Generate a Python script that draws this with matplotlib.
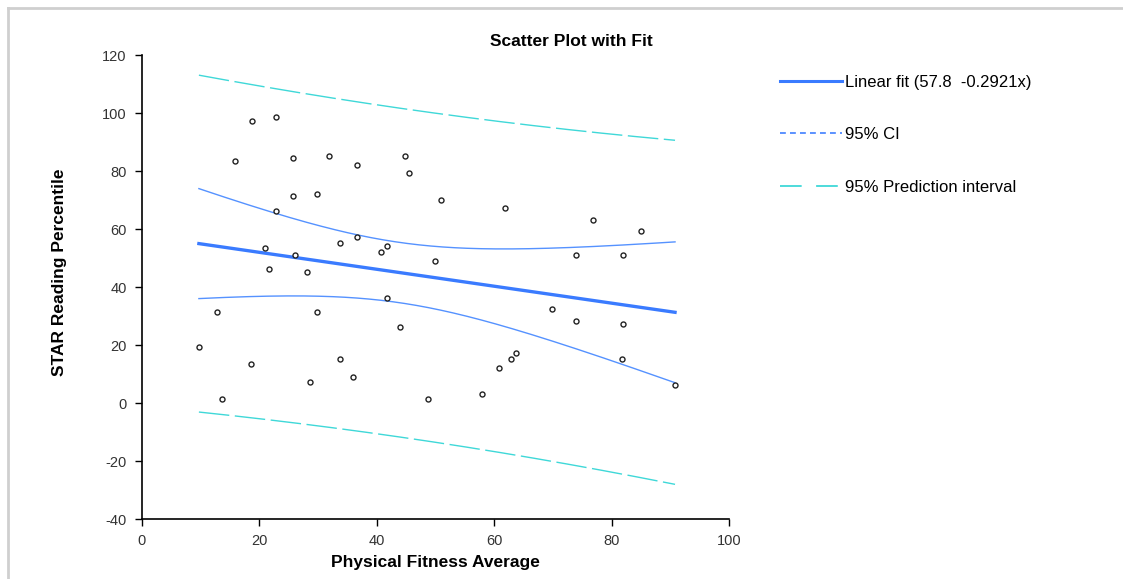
import numpy as np
import matplotlib
matplotlib.use("Agg")
import matplotlib.pyplot as plt
from matplotlib.lines import Line2D

plt.rcParams['font.family'] = ['Liberation Sans', 'DejaVu Sans']
plt.rcParams['axes.unicode_minus'] = False

# Data
fitness = [9.7, 12.8, 13.7, 15.8, 18.7, 18.5, 20.9, 21.7, 22.8, 22.8,
           25.7, 25.7, 26.0, 28.1, 28.6, 29.8, 29.8, 31.9, 33.8, 33.8,
           35.9, 36.7, 36.7, 40.7, 41.8, 41.8, 43.9, 44.8, 45.5, 48.7,
           49.9, 50.9, 57.9, 60.8, 61.8, 62.9, 63.7, 69.9, 73.9, 73.9,
           76.9, 82.0, 82.0, 81.7, 85.0, 90.8]
reading = [19.4, 31.4, 1.4, 83.4, 97.2, 13.4, 53.3, 46.1, 98.5, 66.3,
           84.4, 71.4, 51.1, 45.2, 7.3, 72.2, 31.4, 85.2, 55.1, 15.1,
           9.1, 82.2, 57.2, 52.1, 54.2, 36.2, 26.3, 85.2, 79.2, 1.5,
           49.1, 70.1, 3.1, 12.1, 67.1, 15.1, 17.2, 32.3, 28.4, 51.1,
           63.2, 51.1, 27.1, 15.1, 59.3, 6.1]

fit_intercept = 57.8
fit_slope = -0.2921
t_crit = 2.0154       # t(0.975, df=44) for the prediction interval
w_band = 2.5334       # sqrt(2*F(0.95; 2, 44)) Working-Hotelling confidence band

x = np.array(fitness)
y = np.array(reading)
n = len(x)
yhat_pts = fit_intercept + fit_slope * x
s = np.sqrt(np.sum((y - yhat_pts) ** 2) / (n - 2))
xbar = x.mean()
sxx = np.sum((x - xbar) ** 2)

xs = np.linspace(x.min(), x.max(), 200)
yfit = fit_intercept + fit_slope * xs
se_mean = s * np.sqrt(1.0 / n + (xs - xbar) ** 2 / sxx)
se_pred = s * np.sqrt(1.0 + 1.0 / n + (xs - xbar) ** 2 / sxx)

fig = plt.figure(figsize=(11.23, 5.79), dpi=100)
ax = fig.add_axes([0.1264, 0.1036, 0.5228, 0.8014])

fit_col = '#3a7bff'
ci_col = '#5592ff'
pi_col = '#3fd8d8'

ax.plot(xs, yfit, color=fit_col, lw=2.4, zorder=3)
ax.plot(xs, yfit + w_band * se_mean, color=ci_col, lw=1.0, zorder=3)
ax.plot(xs, yfit - w_band * se_mean, color=ci_col, lw=1.0, zorder=3)
ax.plot(xs, yfit + t_crit * se_pred, color=pi_col, lw=1.0, dashes=(22, 4), zorder=3)
ax.plot(xs, yfit - t_crit * se_pred, color=pi_col, lw=1.0, dashes=(22, 4), zorder=3)
ax.plot(x, y, linestyle='none', marker='o', markersize=3.6, markerfacecolor='white',
        markeredgecolor='#222222', markeredgewidth=1.0, zorder=4)

ax.set_xlim(0, 100)
ax.set_ylim(-40, 120)
ax.set_xticks(np.arange(0, 101, 20))
ax.set_yticks(np.arange(-40, 121, 20))
for sp in ['top', 'right']:
    ax.spines[sp].set_visible(False)
for sp in ['left', 'bottom']:
    ax.spines[sp].set_linewidth(1.2)
    ax.spines[sp].set_color('black')
ax.tick_params(direction='out', length=5, width=1.0, labelsize=10.5, colors='black',
               labelcolor='#333333', pad=6)
ax.set_xlabel('Physical Fitness Average', fontsize=12.5, fontweight='bold', labelpad=5)
ax.set_ylabel('STAR Reading Percentile', fontsize=12.5, fontweight='bold')
ax.yaxis.set_label_coords(-0.128, 0.532)

fig.text(0.509, 0.929, 'Scatter Plot with Fit', ha='center', va='center',
         fontsize=12.5, fontweight='bold')

handles = [Line2D([], [], color=fit_col, lw=2.2),
           Line2D([], [], color='#3f7fff', lw=1.2, dashes=(3.5, 2.5)),
           Line2D([], [], color=pi_col, lw=1.3, dashes=(12, 8))]
labels = ['Linear fit (57.8  -0.2921x)', '95% CI', '95% Prediction interval']
fig.legend(handles, labels, loc='upper left', bbox_to_anchor=(0.695, 0.871),
           frameon=False, fontsize=12, handlelength=3.7, handletextpad=0.15,
           labelspacing=2.25, borderpad=0, borderaxespad=0)

# light frame on left and top edges
fig.add_artist(Line2D([7.5 / 1123, 7.5 / 1123], [0, 1 - 8 / 579], transform=fig.transFigure,
                      color='#cfcfcf', lw=2))
fig.add_artist(Line2D([7.5 / 1123, 1], [1 - 8 / 579, 1 - 8 / 579], transform=fig.transFigure,
                      color='#cfcfcf', lw=2))

fig.savefig('out.png', dpi=100)
